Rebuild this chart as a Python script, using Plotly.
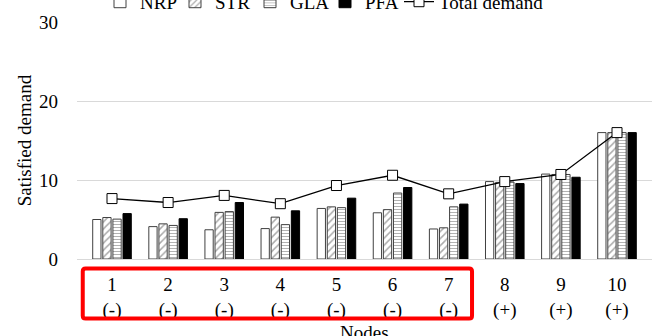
import plotly.graph_objects as go

# Satisfied demand per node for each method
nodes = ["1", "2", "3", "4", "5", "6", "7", "8", "9", "10"]
signs = ["(-)", "(-)", "(-)", "(-)", "(-)", "(-)", "(-)", "(+)", "(+)", "(+)"]
nrp = [5.0, 4.1, 3.7, 3.85, 6.4, 5.85, 3.8, 9.8, 10.75, 16.0]
strv = [5.25, 4.45, 5.9, 5.3, 6.6, 6.25, 3.95, 9.7, 10.7, 16.0]
gla = [5.05, 4.25, 6.0, 4.35, 6.5, 8.35, 6.6, 9.75, 10.7, 16.0]
pfa = [5.75, 5.1, 7.15, 6.1, 7.7, 9.05, 6.95, 9.55, 10.35, 16.0]
total_demand = [7.65, 7.15, 8.05, 7.0, 9.3, 10.6, 8.25, 9.8, 10.7, 16.0]

tick_text = [f"{n}<br>{s}" for n, s in zip(nodes, signs)]
FONT = "Liberation Serif, Times New Roman, serif"
OUTLINE = "#404040"

fig = go.Figure()
fig.add_trace(go.Bar(name="NRP", x=nodes, y=nrp,
                     marker=dict(color="white", line=dict(color=OUTLINE, width=1))))
fig.add_trace(go.Bar(name="STR", x=nodes, y=strv,
                     marker=dict(color="white", line=dict(color=OUTLINE, width=1),
                                 pattern=dict(shape="/", fgcolor="#555555", bgcolor="white",
                                              size=5, solidity=0.3))))
fig.add_trace(go.Bar(name="GLA", x=nodes, y=gla,
                     marker=dict(color="white", line=dict(color=OUTLINE, width=1),
                                 pattern=dict(shape="-", fgcolor="#666666", bgcolor="white",
                                              size=3, solidity=0.35))))
fig.add_trace(go.Bar(name="PFA", x=nodes, y=pfa,
                     marker=dict(color="black", line=dict(color="black", width=1))))
fig.add_trace(go.Scatter(name="Total demand", x=nodes, y=total_demand,
                         mode="lines+markers", legend="legend2",
                         line=dict(color="black", width=1.3),
                         marker=dict(symbol="square", size=10, color="white",
                                     line=dict(color="black", width=1))))

# highlight box around the nodes with negative sign (paper coordinates)
neg = [i for i, s in enumerate(signs) if s == "(-)"]
n = len(nodes)
x0 = (neg[0] + 0.5 - 0.40) / n
x1 = (neg[-1] + 0.5 + 0.37) / n
y0, y1 = -0.04, -0.251
rx, ry = 0.005, 0.012
path = (f"M {x0+rx},{y0} L {x1-rx},{y0} Q {x1},{y0} {x1},{y0-ry} "
        f"L {x1},{y1+ry} Q {x1},{y1} {x1-rx},{y1} "
        f"L {x0+rx},{y1} Q {x0},{y1} {x0},{y1+ry} "
        f"L {x0},{y0-ry} Q {x0},{y0} {x0+rx},{y0} Z")
fig.add_shape(type="path", path=path, xref="paper", yref="paper",
              line=dict(color="#ff0000", width=4))

# x-axis title sits low, partly below the page edge
fig.add_annotation(text="Nodes", xref="paper", yref="paper", x=0.5, y=-0.312,
                   xanchor="center", yanchor="middle", showarrow=False,
                   font=dict(size=19))

legend_common = dict(orientation="h", xanchor="left", y=1.085, yanchor="middle",
                     font=dict(size=19), bgcolor="rgba(0,0,0,0)", itemclick=False)

fig.update_layout(
    width=652, height=336,
    margin=dict(l=77, r=0, t=22, b=76.6, autoexpand=False),
    paper_bgcolor="white", plot_bgcolor="white",
    font=dict(family=FONT, size=19, color="black"),
    barmode="group", bargap=0.28, bargroupgap=0.18,
    legend=dict(x=0.04, entrywidth=30, entrywidthmode="pixels", **legend_common),
    legend2=dict(x=0.56, **legend_common),
    showlegend=True,
)
fig.update_xaxes(type="category", tickmode="array", tickvals=nodes, ticktext=tick_text,
                 showgrid=False, showline=False, ticks="", ticklabelstandoff=12)
fig.update_yaxes(range=[0, 30], tickvals=[0, 10, 20, 30], showgrid=True,
                 gridcolor="#d9d9d9", gridwidth=1.3, zeroline=True,
                 zerolinecolor="#d9d9d9", zerolinewidth=1.3, showline=False,
                 ticks="", ticklabelstandoff=18,
                 title=dict(text="Satisfied demand", font=dict(size=19), standoff=2))

fig.write_html("out.html")
